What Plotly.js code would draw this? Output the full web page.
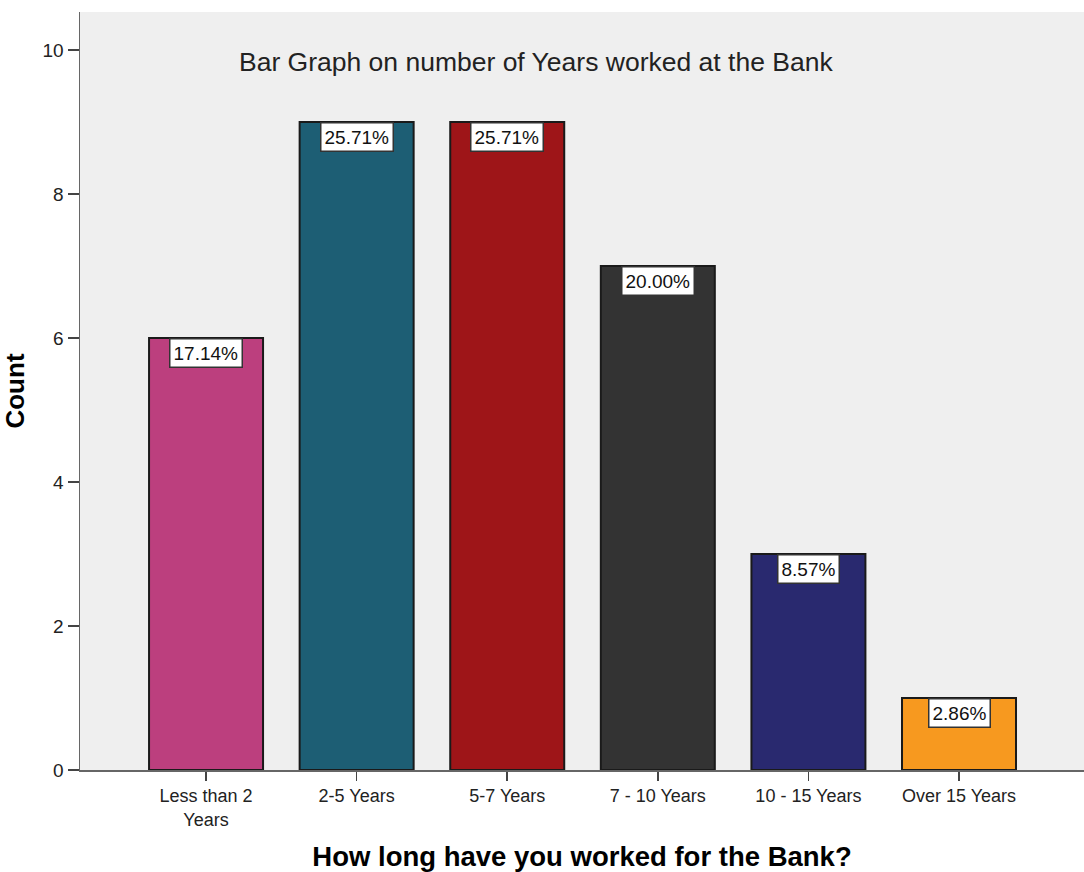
<!DOCTYPE html>
<html>
<head>
<meta charset="utf-8">
<script src="https://cdn.plot.ly/plotly-3.0.1.min.js"></script>
<style>html,body{margin:0;padding:0;background:#fff;}#chart{width:1084px;height:872px;}</style>
</head>
<body>
<div id="chart"></div>
<script>
var categories = ["Less than 2<br>Years", "2-5 Years", "5-7 Years", "7 - 10 Years", "10 - 15 Years", "Over 15 Years"];
var counts = [6, 9, 9, 7, 3, 1];
var percentLabels = ["17.14%", "25.71%", "25.71%", "20.00%", "8.57%", "2.86%"];
var barColors = ["#BC3F7E", "#1D5E74", "#9E1518", "#333333", "#29296F", "#F7991F"];
var yTicks = [0, 2, 4, 6, 8, 10];

var font = "Liberation Sans, Arial, sans-serif";

var trace = {
  type: "bar",
  x: categories,
  y: counts,
  marker: {color: barColors, line: {color: "#1a1a1a", width: 2}},
  width: 0.757,
  hoverinfo: "none"
};

var annotations = categories.map(function(c, i) {
  return {
    x: c, y: counts[i], xref: "x", yref: "y",
    text: percentLabels[i], showarrow: false,
    yanchor: "top", xanchor: "center",
    bgcolor: "#ffffff", bordercolor: "#333333", borderwidth: 1.5, borderpad: 3,
    font: {family: font, size: 19, color: "#111111"}
  };
});

var layout = {
  width: 1084, height: 872,
  margin: {l: 80, r: 0, t: 12, b: 102},
  paper_bgcolor: "#ffffff",
  plot_bgcolor: "#EFEFEF",
  showlegend: false,
  title: {
    text: "Bar Graph on number of Years worked at the Bank",
    font: {family: font, size: 26.5, color: "#222222"},
    x: 0.454, xanchor: "center", xref: "paper",
    y: 0.929, yanchor: "middle", yref: "container"
  },
  xaxis: {
    type: "category",
    range: [-0.837, 5.83],
    showgrid: false, zeroline: false,
    showline: true, linecolor: "#666666", linewidth: 1.5,
    ticks: "outside", ticklen: 9, tickcolor: "#444444", tickwidth: 1.5,
    tickfont: {family: font, size: 18, color: "#222222"},
    title: {text: "<b>How long have you worked for the Bank?</b>", font: {family: font, size: 27.5, color: "#000000"}, standoff: 28}
  },
  yaxis: {
    range: [0, 10.528],
    tickvals: yTicks,
    showgrid: false, zeroline: false,
    showline: true, linecolor: "#666666", linewidth: 1.5,
    ticks: "outside", ticklen: 11, tickcolor: "#444444", tickwidth: 1.5,
    tickfont: {family: font, size: 19, color: "#222222"},
    title: {text: "<b>Count</b>", font: {family: font, size: 26, color: "#000000"}, standoff: 13}
  },
  annotations: annotations
};

Plotly.newPlot("chart", [trace], layout, {displayModeBar: false, staticPlot: true});
</script>
</body>
</html>
